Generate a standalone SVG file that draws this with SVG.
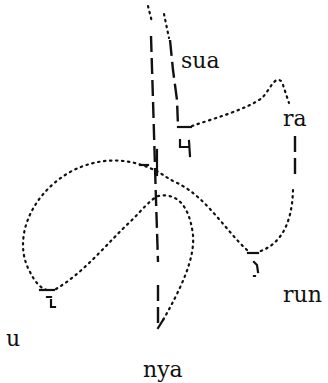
<svg xmlns="http://www.w3.org/2000/svg" width="328" height="383" viewBox="0 0 328 383">
<style>
text{font-family:'DejaVu Serif',serif;font-size:22px;fill:#111}
.dot{fill:none;stroke:#111;stroke-width:2.2;stroke-linecap:round;stroke-dasharray:1.5 4.5}
.dash{fill:none;stroke:#111;stroke-width:2.4;stroke-linecap:butt;stroke-dasharray:16 6}
.mark{fill:none;stroke:#111;stroke-width:2.2;stroke-linecap:square}
</style>
<rect width="328" height="383" fill="#fff"/>
<g id="connectors">
  <path class="dot" d="M148,6 L152,22"/>
  <path class="dash" d="M151,36 L153,100 L156,200 L158,262"/>
  <path class="dash" d="M158,285 L158,328"/>
  <path class="dot" d="M164,14 L169,38"/>
  <path class="dash" d="M170,40 L173,70 L177,100 L178,126"/>
  <path class="mark" d="M178,127 L191,127"/>
  <path class="dot" d="M192,126 C215,118 245,110 262,98 C270,90 275,74 282,82 L289,103"/>
  <path class="dash" d="M295,136 L295,180"/>
  <path class="dot" d="M293,190 C292,225 280,245 258,252"/>
  <path class="mark" d="M248,253 L258,253"/>
  <path class="dot" d="M247,250 C225,230 205,195 175,182 C165,177 160,172 154,170 C130,158 100,156 70,172 C30,195 12,240 30,272 C35,282 40,288 47,290"/>
  <path class="mark" d="M40,290 L54,290"/>
  <path class="dot" d="M56,289 C85,272 110,240 130,222 C142,210 150,200 158,196 C180,192 190,210 193,235 C195,260 180,290 162,322"/>
  <path class="mark" d="M158,328 L163,320"/>
  <path class="mark" d="M140,165 L148,165"/>
  <path class="mark" d="M157,150 L157,175"/>
  <path class="mark" d="M180,140 L180,147 L189,147 M189,141 L190,156"/>
  <path class="mark" d="M254,262 L257,265 L258,272 M254,276 L255,276"/>
  <path class="mark" d="M47,297 L51,297 M51,300 L51,307 L55,307"/>
</g>
<g id="n-sua"><text x="181" y="68">sua</text></g>
<g id="n-ra"><text x="283" y="126">ra</text></g>
<g id="n-run"><text x="283" y="302">run</text></g>
<g id="n-u"><text x="6" y="346">u</text></g>
<g id="n-nya"><text x="143" y="377">nya</text></g>
</svg>
